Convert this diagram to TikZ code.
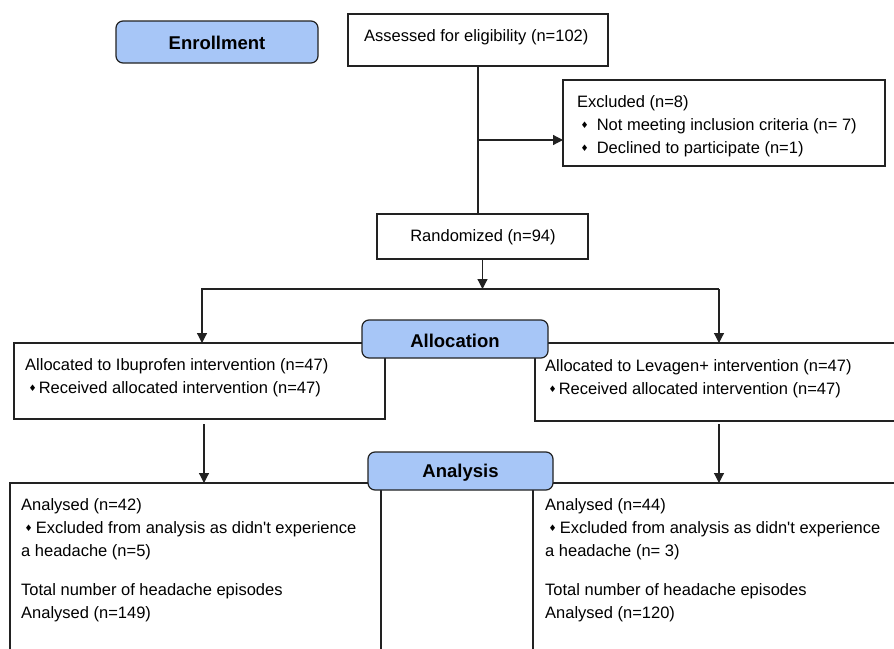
\documentclass[tikz,border=0pt]{standalone}
\usepackage{fontspec}
\setmainfont{Liberation Sans}
\newfontfamily\dejavu{DejaVu Sans}
\usetikzlibrary{arrows.meta}
\definecolor{hdrblue}{HTML}{A7C6F7}
\definecolor{edge}{HTML}{222222}
\newcommand{\bul}[1]{\hspace{3.5pt}\raisebox{1.5pt}{\dejavu\fontsize{9}{9}\selectfont ♦}\hspace{#1}}
\begin{document}
\begin{tikzpicture}[x=1pt,y=-1pt,
  box/.style={draw=edge, line width=1.2pt, inner sep=0pt, outer sep=0pt, anchor=north west},
  hdr/.style={draw=edge, line width=1.2pt, fill=hdrblue, rounded corners=7pt, inner sep=0pt, outer sep=0pt, anchor=north west},
  hdrtxt/.style={font=\fontsize{18.5}{22}\selectfont\bfseries, inner sep=0pt},
  txt/.style={anchor=north west, inner sep=0pt, align=left, font=\fontsize{16.5}{23}\selectfont},
  line/.style={draw=edge, line width=1.2pt},
  arr/.style={draw=edge, line width=1.2pt, -{Triangle[width=10pt,length=10pt]}}]
\useasboundingbox (0,0) rectangle (894,648);
\fill[white] (0,0) rectangle (894,648);

% boxes
\node[box, minimum width=260pt, minimum height=52pt] (assess) at (348,14) {};
\node[box, minimum width=322pt, minimum height=86pt] (excl) at (563,80) {};
\node[box, minimum width=211pt, minimum height=45pt] (rand) at (377,214) {};
\node[box, minimum width=371pt, minimum height=76pt] (allocL) at (14,343) {};
\node[box, minimum width=370pt, minimum height=78pt] (allocR) at (535,343) {};
\node[box, minimum width=371pt, minimum height=180pt] (anL) at (10,483) {};
\node[box, minimum width=370pt, minimum height=180pt] (anR) at (533,483) {};

% connectors
\draw[line] (assess.south) -- (assess.south |- rand.north);
\coordinate (j1) at (assess.south |- 0,140);
\draw[arr] (j1) -- (j1 -| excl.west);
\coordinate (split) at (rand.south |- 0,289);
\draw[arr] (rand.south) -- (split);
\coordinate (sl) at (202,289);
\coordinate (sr) at (719,289);
\draw[arr] (sr) -- (sl) -- (sl |- allocL.north);
\draw[arr] (sr) -- (sr |- allocR.north);
\coordinate (dl) at (204,424);
\coordinate (dr) at (719,424);
\draw[arr] (dl) -- (dl |- anL.north);
\draw[arr] (dr) -- (dr |- anR.north);

% headers
\node[hdr, minimum width=202pt, minimum height=42pt] (enroll) at (116,21) {};
\node[hdrtxt, yshift=-1pt] (enrollT) at (enroll.center) {Enrollment};
\node[hdr, minimum width=186pt, minimum height=38pt] (alloc) at (362,320) {};
\node[hdrtxt, yshift=-2pt] (allocT) at (alloc.center) {Allocation};
\node[hdr, minimum width=185pt, minimum height=38pt] (anal) at (368,452) {};
\node[hdrtxt, yshift=-2pt] (analT) at (anal.center) {Analysis};

% texts
\node[txt] (assessT) at (364,29) {Assessed for eligibility (n=102)};
\node[txt] (exclT) at (577,95) {Excluded (n=8)\\\bul{8pt}Not meeting inclusion criteria (n= 7)\\\bul{8pt}Declined to participate (n=1)};
\node[font=\fontsize{16.5}{23}\selectfont, inner sep=0pt] (randT) at (483,237) {Randomized (n=94)};
\node[txt] (allocLT) at (25,358) {Allocated to Ibuprofen intervention (n=47)\\\bul{2pt}Received allocated intervention (n=47)};
\node[txt] (allocRT) at (545,359) {Allocated to Levagen+ intervention (n=47)\\\bul{2pt}Received allocated intervention (n=47)};
\node[txt] (anLT) at (21,498) {Analysed (n=42)\\\bul{3pt}Excluded from analysis as didn\textquotesingle t experience\\a headache (n=5)\\[16pt]Total number of headache episodes\\Analysed (n=149)};
\node[txt] (anRT) at (545,498) {Analysed (n=44)\\\bul{3pt}Excluded from analysis as didn\textquotesingle t experience\\a headache (n= 3)\\[16pt]Total number of headache episodes\\Analysed (n=120)};
\end{tikzpicture}
\end{document}
